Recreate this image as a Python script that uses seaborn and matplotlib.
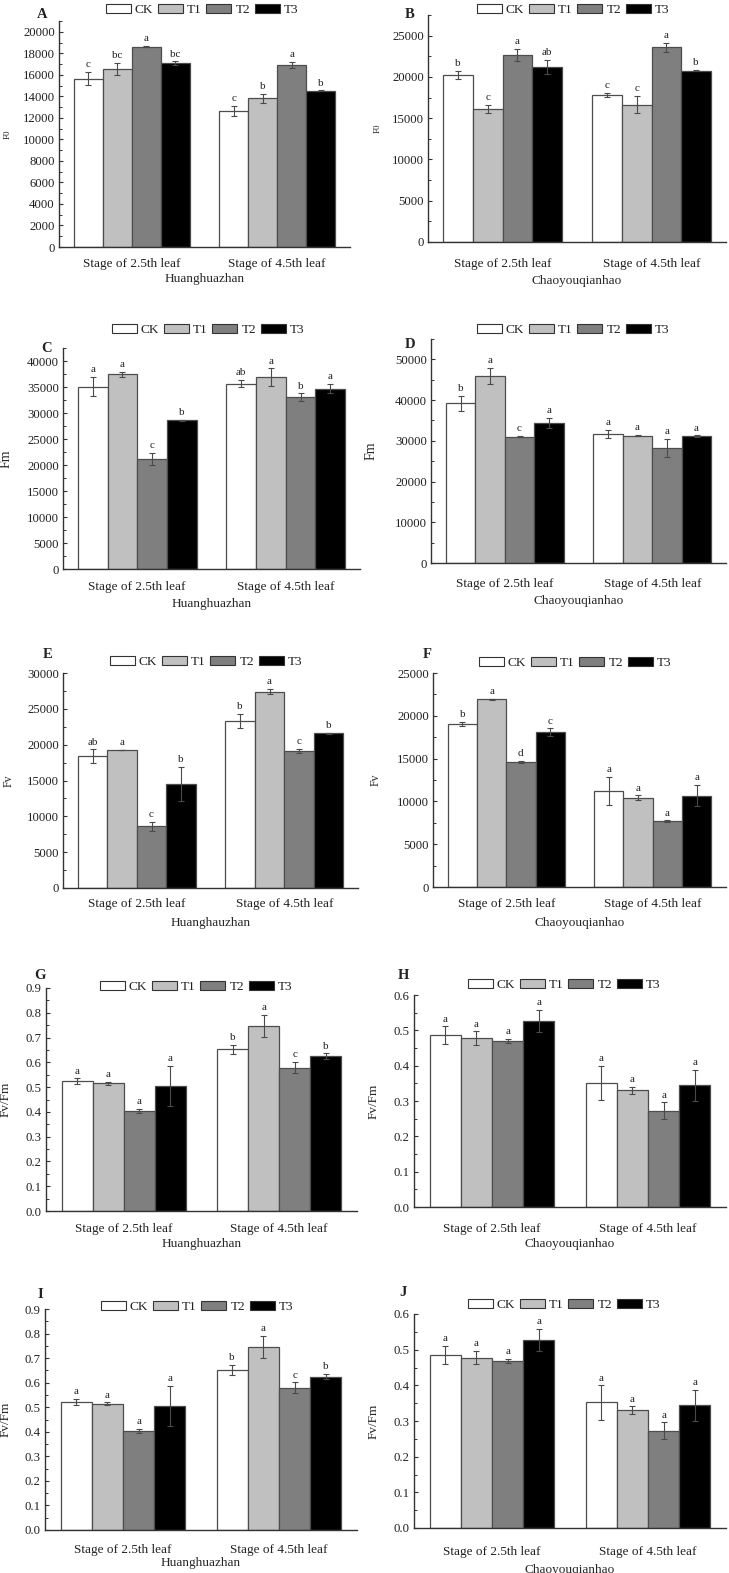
import numpy as np
import pandas as pd
import seaborn as sns
import matplotlib.pyplot as plt
from matplotlib.patches import Patch
from matplotlib.ticker import MultipleLocator, AutoMinorLocator, FormatStrFormatter

sns.set_style('ticks')
plt.rcParams['font.family'] = ['Liberation Serif', 'DejaVu Serif']
plt.rcParams['text.color'] = '#222222'

stages = ['Stage of 2.5th leaf', 'Stage of 4.5th leaf']
treatments = ['CK', 'T1', 'T2', 'T3']
colors = ['#ffffff', '#c0c0c0', '#7f7f7f', '#000000']

# F0 - Huanghuazhan (A)
f0_hhz = [[15650, 16550, 18600, 17100], [12620, 13800, 16900, 14510]]
f0_hhz_err = [[590, 540, 60, 150], [465, 450, 310, 50]]
f0_hhz_sig = [['c', 'bc', 'a', 'bc'], ['c', 'b', 'a', 'b']]

# F0 - Chaoyouqianhao (B)
f0_cyq = [[20230, 16120, 22650, 21200], [17770, 16650, 23580, 20760]]
f0_cyq_err = [[540, 500, 770, 850], [260, 1030, 520, 60]]
f0_cyq_sig = [['b', 'c', 'a', 'ab'], ['c', 'c', 'a', 'b']]

# Fm - Huanghuazhan (C)
fm_hhz = [[35080, 37450, 21150, 28630], [35660, 36870, 33040, 34700]]
fm_hhz_err = [[1850, 480, 1180, 100], [700, 1700, 735, 900]]
fm_hhz_sig = [['a', 'a', 'c', 'b'], ['ab', 'a', 'b', 'a']]

# Fm - Chaoyouqianhao (D)
fm_cyq = [[39270, 46020, 31060, 34390], [31710, 31300, 28210, 31140]]
fm_cyq_err = [[1830, 1950, 100, 1220], [975, 200, 2240, 200]]
fm_cyq_sig = [['b', 'a', 'c', 'a'], ['a', 'a', 'a', 'a']]

# Fv - Huanghuazhan (E)
fv_hhz = [[18420, 19260, 8590, 14480], [23290, 27380, 19120, 21580]]
fv_hhz_err = [[930, 60, 600, 2370], [1020, 350, 300, 100]]
fv_hhz_sig = [['ab', 'a', 'c', 'b'], ['b', 'a', 'c', 'b']]

# Fv - Chaoyouqianhao (F)
fv_cyq = [[19050, 21960, 14630, 18080], [11250, 10400, 7680, 10670]]
fv_cyq_err = [[230, 60, 100, 450], [1650, 290, 100, 1260]]
fv_cyq_sig = [['b', 'a', 'd', 'c'], ['a', 'a', 'a', 'a']]

# Fv/Fm - Huanghuazhan (G, I)
fvfm_hhz = [[0.523, 0.515, 0.405, 0.505], [0.652, 0.746, 0.579, 0.625]]
fvfm_hhz_err = [[0.012, 0.005, 0.008, 0.082], [0.019, 0.045, 0.022, 0.011]]
fvfm_hhz_sig = [['a', 'a', 'a', 'a'], ['b', 'a', 'c', 'b']]

# Fv/Fm - Chaoyouqianhao (H, J)
fvfm_cyq = [[0.486, 0.478, 0.469, 0.527], [0.352, 0.331, 0.273, 0.344]]
fvfm_cyq_err = [[0.025, 0.019, 0.006, 0.031], [0.048, 0.010, 0.023, 0.044]]
fvfm_cyq_sig = [['a', 'a', 'a', 'a'], ['a', 'a', 'a', 'a']]

W, H = 729, 1573
fig = plt.figure(figsize=(W / 100, H / 100), dpi=100)

# letter, data, axes box (l, t, r, b) px, ylim, step, ylabel, ylabel size, xlabel,
# legend centre, letter pos, ylabel x, xtick y, xlabel y
panels = [
    dict(tag='A', m=f0_hhz, e=f0_hhz_err, s=f0_hhz_sig, box=(59, 21, 350, 247), top=21000, step=2000,
         yl='F0', yls=6.5, xl='Huanghuazhan', leg=(202, 10), tagp=(42, 14), ylx=12, xt=265, xly=279),
    dict(tag='B', m=f0_cyq, e=f0_cyq_err, s=f0_cyq_sig, box=(428, 15, 726, 242), top=27500, step=5000,
         yl='F0', yls=6.5, xl='Chaoyouqianhao', leg=(573, 10), tagp=(410, 14), ylx=382, xt=265, xly=281),
    dict(tag='C', m=fm_hhz, e=fm_hhz_err, s=fm_hhz_sig, box=(63, 348, 360, 569), top=42500, step=5000,
         yl='Fm', yls=10, xl='Huanghuazhan', leg=(208, 330), tagp=(47, 349), ylx=13, xt=588, xly=604),
    dict(tag='D', m=fm_cyq, e=fm_cyq_err, s=fm_cyq_sig, box=(431, 339, 726, 563), top=55000, step=10000,
         yl='Fm', yls=10, xl='Chaoyouqianhao', leg=(573, 330), tagp=(410, 344), ylx=378, xt=585, xly=601),
    dict(tag='E', m=fv_hhz, e=fv_hhz_err, s=fv_hhz_sig, box=(63, 673, 358, 888), top=30000, step=5000,
         yl='Fv', yls=8.5, xl='Huanghauzhan', leg=(206, 662), tagp=(48, 655), ylx=15, xt=905, xly=923),
    dict(tag='F', m=fv_cyq, e=fv_cyq_err, s=fv_cyq_sig, box=(433, 673, 726, 887), top=25000, step=5000,
         yl='Fv', yls=8.5, xl='Chaoyouqianhao', leg=(575, 663), tagp=(427, 655), ylx=382, xt=905, xly=923),
    dict(tag='G', m=fvfm_hhz, e=fvfm_hhz_err, s=fvfm_hhz_sig, box=(46, 988, 357, 1211), top=0.9, step=0.1,
         yl='Fv/Fm', yls=9.5, xl='Huanghuazhan', leg=(196, 987), tagp=(40, 975), ylx=12, xt=1230, xly=1244),
    dict(tag='H', m=fvfm_cyq, e=fvfm_cyq_err, s=fvfm_cyq_sig, box=(414, 995, 726, 1207), top=0.6, step=0.1,
         yl='Fv/Fm', yls=9.5, xl='Chaoyouqianhao', leg=(564, 985), tagp=(403, 975), ylx=380, xt=1230, xly=1244),
    dict(tag='I', m=fvfm_hhz, e=fvfm_hhz_err, s=fvfm_hhz_sig, box=(45, 1309, 357, 1530), top=0.9, step=0.1,
         yl='Fv/Fm', yls=9.5, xl='Huanghuazhan', leg=(197, 1307), tagp=(40, 1295), ylx=12, xt=1551, xly=1563),
    dict(tag='J', m=fvfm_cyq, e=fvfm_cyq_err, s=fvfm_cyq_sig, box=(414, 1314, 726, 1528), top=0.6, step=0.1,
         yl='Fv/Fm', yls=9.5, xl='Chaoyouqianhao', leg=(564, 1305), tagp=(403, 1293), ylx=380, xt=1553, xly=1570),
]

handles = [Patch(facecolor=c, edgecolor='#333333', linewidth=0.8) for c in colors]

for p in panels:
    l, t, r, b = p['box']
    ax = fig.add_axes([l / W, 1 - b / H, (r - l) / W, (b - t) / H])

    rows = []
    for gi, st in enumerate(stages):
        for ti, tr in enumerate(treatments):
            rows.append({'stage': st, 'treatment': tr, 'value': p['m'][gi][ti],
                         'err': p['e'][gi][ti], 'sig': p['s'][gi][ti]})
    df = pd.DataFrame(rows)

    sns.barplot(data=df, x='stage', y='value', hue='treatment', hue_order=treatments,
                palette=colors, edgecolor='#4d4d4d', linewidth=0.9, errorbar=None,
                width=0.8, legend=False, ax=ax)

    # error bars and significance letters on top of each bar
    bar_groups = list(ax.containers)
    for ti, cont in enumerate(bar_groups):
        sub = df[df['treatment'] == treatments[ti]]
        for bar, (_, row) in zip(cont, sub.iterrows()):
            xc = bar.get_x() + bar.get_width() / 2
            yv = bar.get_height()
            ax.errorbar(xc, yv, yerr=row['err'], fmt='none', ecolor='#4a4a4a',
                        elinewidth=0.8, capsize=2.2, capthick=0.8)
            ax.annotate(row['sig'], (xc, yv + row['err']), xytext=(0, 2),
                        textcoords='offset points', ha='center', va='bottom', fontsize=8)

    ax.set_xlim(-0.5, 1.5)
    ax.set_ylim(0, p['top'])
    ax.yaxis.set_major_locator(MultipleLocator(p['step']))
    ax.yaxis.set_minor_locator(AutoMinorLocator(2))
    if p['step'] < 1:
        ax.yaxis.set_major_formatter(FormatStrFormatter('%.1f'))
    ax.tick_params(axis='y', which='major', direction='in', length=3, width=0.8,
                   labelsize=9.2, pad=3, colors='#333333', labelcolor='#222222')
    ax.tick_params(axis='y', which='minor', direction='in', length=2, width=0.7, colors='#333333')
    xpad = (p['xt'] - b - 7) / 1.389
    ax.tick_params(axis='x', length=0, labelsize=9.5, pad=xpad, labelcolor='#222222')

    sns.despine(ax=ax)
    for sp in ['left', 'bottom']:
        ax.spines[sp].set_color('#333333')
        ax.spines[sp].set_linewidth(1.0)

    ax.set_ylabel(p['yl'], fontsize=p['yls'])
    ax.yaxis.set_label_coords((p['ylx'] - l) / (r - l), 0.5)
    ax.set_xlabel(p['xl'], fontsize=9.5)
    ax.xaxis.set_label_coords(0.5, (b - p['xly']) / (b - t))
    ax.xaxis.label.set_va('center')

    ax.legend(handles, treatments, loc='center', ncol=4, frameon=False,
              bbox_to_anchor=(p['leg'][0] / W, 1 - p['leg'][1] / H), bbox_transform=fig.transFigure,
              fontsize=9.5, handlelength=1.9, handleheight=0.7, handletextpad=0.3,
              columnspacing=0.35, borderpad=0, borderaxespad=0)

    fig.text(p['tagp'][0] / W, 1 - p['tagp'][1] / H, p['tag'], fontsize=10.5,
             fontweight='bold', ha='center', va='center')

fig.savefig('out.png', dpi=100)
